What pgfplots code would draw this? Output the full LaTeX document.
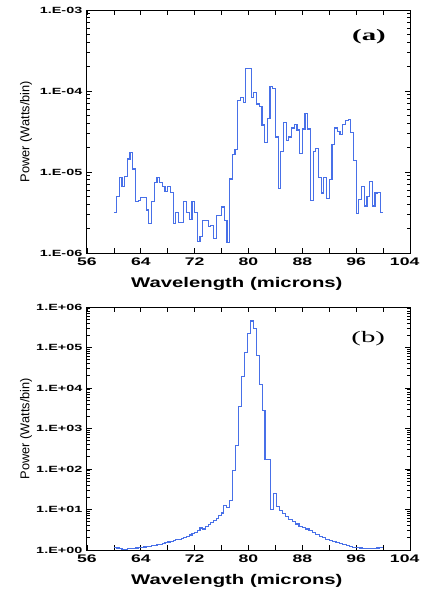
\documentclass[border=0pt]{standalone}
\usepackage{fontspec}
\setmainfont{Liberation Sans}
\newfontfamily\tickfont[FakeStretch=1.6]{Liberation Sans}
\newfontfamily\labfont[FakeStretch=1.45]{Liberation Sans}
\newfontfamily\panelfont[FakeStretch=1.8]{Liberation Serif}
\usepackage{pgfplots}
\pgfplotsset{compat=1.18}
\definecolor{lineblue}{RGB}{72,112,232}

\pgfplotsset{
  specaxis/.style={
    scale only axis, width=242.25pt, height=182.25pt,
    xmin=56, xmax=104,
    xtick={56,60,...,104},
    xticklabels={56,,64,,72,,80,,88,,96,,\kern-8pt 104},
    tick align=inside, major tick length=4pt, minor tick length=2.2pt,
    tick style={black, line width=0.6pt},
    axis line style={line width=0.75pt},
    yticklabel style={font=\tickfont\bfseries\fontsize{6.75}{8}\selectfont},
    xticklabel style={font=\tickfont\bfseries\fontsize{8.25}{10}\selectfont},
    xlabel={\labfont\bfseries Wavelength (microns)},
    ylabel={Power (Watts/bin)},
    xlabel style={font=\fontsize{10.5}{12}\selectfont, at={(axis description cs:0.464,0)}, anchor=center, yshift=-23pt},
    ylabel style={font=\fontsize{9.6}{11}\selectfont, at={(axis description cs:-0.189,0.5)}, anchor=center},
  }
}

\begin{document}
\begin{tikzpicture}
% panel (a): noisy spectrum
\begin{axis}[ymode=log, specaxis, name=a, at={(0,0)}, anchor=south west,
  ymin=1e-6, ymax=1e-3,
  ytick={1e-6,1e-5,1e-4,1e-3},
  yticklabels={1.E-06,1.E-05,1.E-04,1.E-03}]
\addplot[const plot mark left, lineblue, line width=0.85pt] coordinates {
(60.0,3.2e-6) (60.4,5.0e-6) (60.8,8.5e-6) (61.2,6.6e-6) (61.6,8.7e-6) (62.0,1.45e-5) (62.4,1.74e-5) (62.8,1.09e-5)
(63.2,4.3e-6) (63.6,4.5e-6) (64.0,4.8e-6) (64.4,4.8e-6) (64.8,3.4e-6) (65.2,2.3e-6) (65.6,4.3e-6) (66.0,7.4e-6)
(66.4,8.5e-6) (66.8,7.4e-6) (67.2,6.6e-6) (67.6,5.7e-6) (68.0,6.6e-6) (68.4,5.6e-6) (68.8,2.3e-6) (69.2,3.2e-6)
(69.6,2.4e-6) (70.0,2.4e-6) (70.4,4.3e-6) (70.8,3.2e-6) (71.2,2.6e-6) (71.6,4.3e-6) (72.0,3.2e-6) (72.4,1.4e-6)
(72.8,1.6e-6) (73.2,2.5e-6) (73.6,2.5e-6) (74.0,2.1e-6) (74.4,2.2e-6) (74.8,1.5e-6) (75.2,2.9e-6) (75.6,2.9e-6)
(76.0,3.7e-6) (76.4,2.5e-6) (76.8,1.35e-6) (77.2,8.2e-6) (77.6,1.63e-5) (78.0,1.9e-5) (78.4,7.6e-5) (78.8,8.3e-5)
(79.2,7.2e-5) (79.6,1.9e-4) (80.0,1.9e-4) (80.4,8.3e-5) (80.8,9.6e-5) (81.2,6.9e-5) (81.6,6.5e-5) (82.0,3.8e-5)
(82.4,2.3e-5) (82.8,4.6e-5) (83.2,1.15e-4) (83.6,1.08e-4) (84.0,2.7e-5) (84.4,6.2e-6) (84.8,1.8e-5) (85.2,4.1e-5)
(85.6,2.45e-5) (86.0,2.7e-5) (86.4,3.5e-5) (86.8,3.9e-5) (87.2,3.3e-5) (87.6,1.7e-5) (88.0,3.4e-5) (88.4,5.3e-5)
(88.8,3.4e-5) (89.2,4.4e-6) (89.6,1.8e-5) (90.0,1.95e-5) (90.4,8.6e-6) (90.8,5.5e-6) (91.2,8.5e-6) (91.6,4.7e-6)
(92.0,8.1e-6) (92.4,2.2e-5) (92.8,3.5e-5) (93.2,3.2e-5) (93.6,2.9e-5) (94.0,3.9e-5) (94.4,4.3e-5) (94.8,4.5e-5)
(95.2,3.1e-5) (95.6,1.4e-5) (96.0,3.1e-6) (96.4,4.6e-6) (96.8,6.6e-6) (97.2,3.8e-6) (97.6,5.0e-6) (98.0,7.6e-6)
(98.4,3.8e-6) (98.8,5.5e-6) (99.2,5.6e-6) (99.6,3.2e-6) (100.0,3.2e-6)
};
\node[font=\panelfont\bfseries\fontsize{12}{14}\selectfont] at (axis cs:97.9,4.7e-4) {(a)};
\end{axis}

% panel (b): narrow line
\begin{axis}[ymode=log, specaxis, name=b, at={(0,-222.75pt)}, anchor=south west,
  ymin=1, ymax=1e6,
  ytick={1,1e1,1e2,1e3,1e4,1e5,1e6},
  yticklabels={1.E+00,1.E+01,1.E+02,1.E+03,1.E+04,1.E+05,1.E+06}]
\addplot[const plot mark left, lineblue, line width=0.85pt] coordinates {
(60.0,1.15) (60.4,1.12) (60.8,1.08) (61.2,1.05) (61.6,1.05) (62.0,1.07) (62.4,1.08) (62.8,1.10)
(63.2,1.12) (63.6,1.14) (64.0,1.17) (64.4,1.19) (64.8,1.21) (65.2,1.24) (65.6,1.27) (66.0,1.31)
(66.4,1.35) (66.8,1.40) (67.2,1.46) (67.6,1.52) (68.0,1.58) (68.4,1.63) (68.8,1.70) (69.2,1.78)
(69.6,1.86) (70.0,1.95) (70.4,2.05) (70.8,2.2) (71.2,2.35) (71.6,2.55) (72.0,2.75) (72.4,3.0)
(72.8,3.5) (73.2,3.3) (73.6,3.8) (74.0,4.2) (74.4,4.7) (74.8,5.3) (75.2,6.0) (75.6,7.0)
(76.0,8.2) (76.3,12.5) (76.7,11) (77.2,17) (77.6,94) (78.1,375) (78.55,3500) (79.0,19000)
(79.45,75000) (79.9,220000) (80.35,450000) (80.8,300000) (81.2,65000) (81.65,12000) (82.1,2800) (82.45,170)
(83.3,10.2) (83.7,25) (84.1,12) (84.55,9.3) (85.0,8.0) (85.5,6.8) (86.0,5.7) (86.5,5.0)
(87.0,4.4) (87.5,3.9) (88.0,3.6) (88.5,3.3) (89.0,3.0) (89.5,2.7) (90.0,2.45) (90.5,2.2)
(91.0,2.0) (91.5,1.85) (92.0,1.72) (92.5,1.62) (93.0,1.52) (93.5,1.43) (94.0,1.35) (94.5,1.28)
(95.0,1.22) (95.5,1.17) (96.0,1.13) (96.5,1.12) (97.0,1.1) (97.5,1.1) (98.0,1.1) (98.5,1.1)
(99.0,1.12) (99.5,1.14) (100.0,1.14)
};
\node[font=\panelfont\fontsize{12}{14}\selectfont] at (axis cs:97.8,1.7e5) {(b)};
\end{axis}

\pgfresetboundingbox
\path (-65.25pt,-255pt) rectangle (251.25pt,189.75pt);
\end{tikzpicture}
\end{document}
